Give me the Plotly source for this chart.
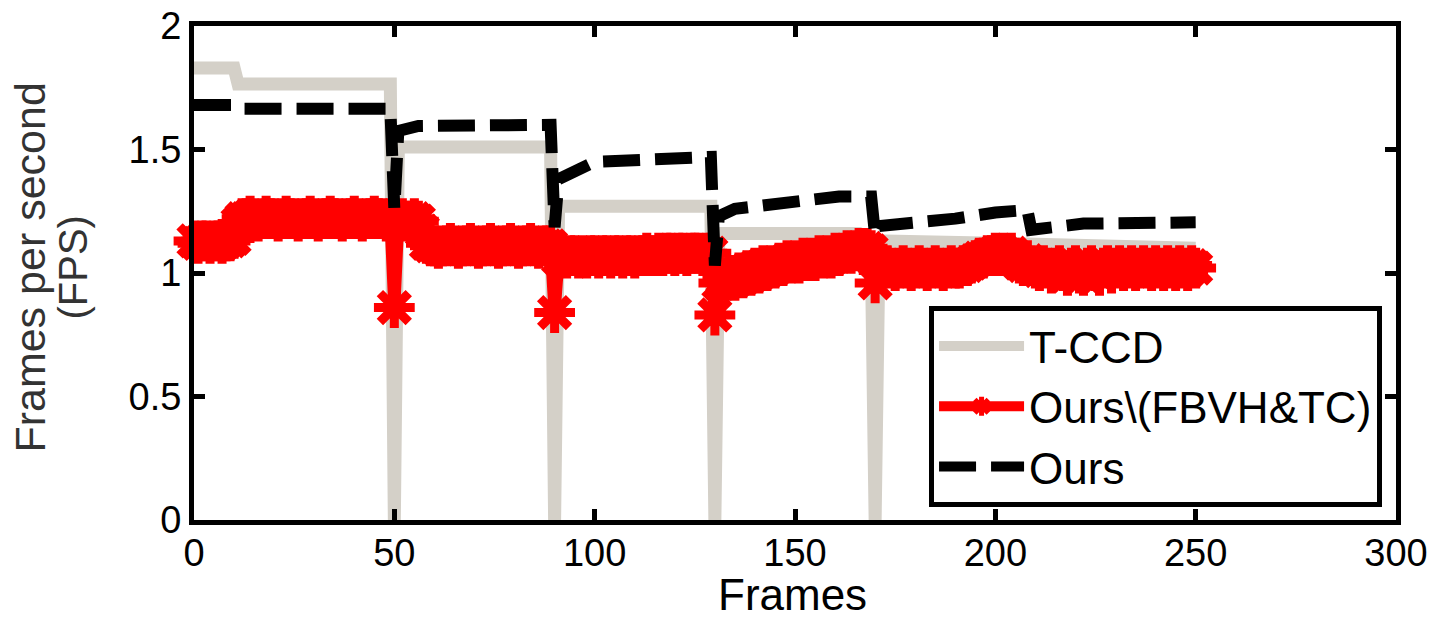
import plotly.graph_objects as go

# ---------------- data ----------------
# T-CCD (grey, stepwise, drops to 0 at scene changes)
tccd_x = [0, 10, 11, 49, 50, 51, 89, 90, 91, 129, 130, 131, 166, 169, 170, 171, 200, 250]
tccd_y = [1.83, 1.83, 1.765, 1.765, 0.0, 1.51, 1.51, 0.0, 1.27, 1.27, 0.0, 1.16, 1.16, 1.13, 0.0, 1.13, 1.12, 1.10]

# Ours (black dashed)
ours_x = [0, 10, 11, 49, 50, 51, 56, 89, 90, 91, 100, 129, 130, 131, 135, 148, 161, 169, 170, 171,
          180, 190, 200, 208, 209, 215, 222, 250]
ours_y = [1.68, 1.68, 1.665, 1.665, 1.26, 1.575, 1.595, 1.60, 1.185, 1.38, 1.45, 1.47, 1.03, 1.23,
          1.26, 1.28, 1.31, 1.31, 1.15, 1.19, 1.20, 1.22, 1.245, 1.255, 1.175, 1.19, 1.20, 1.205]

# Ours\(FBVH&TC) (red, one value per frame 0..250)
red_seg0 = [1.13, 1.12, 1.13, 1.13, 1.12, 1.13, 1.13, 1.12, 1.13, 1.13, 1.14]                 # 0-10
red_seg1 = [1.20, 1.22, 1.22, 1.23, 1.22, 1.21, 1.22, 1.23, 1.22, 1.22, 1.21, 1.22, 1.23,
            1.22, 1.22, 1.21, 1.22, 1.22, 1.23, 1.22, 1.21, 1.22, 1.22, 1.23, 1.22, 1.22,
            1.21, 1.22, 1.22, 1.23, 1.22, 1.21, 1.22, 1.22, 1.23, 1.22, 1.22, 1.21, 1.22]     # 11-49
red_seg2 = [0.86]                                                                          # 50
red_seg3 = [1.21, 1.22, 1.21, 1.21, 1.22, 1.21, 1.17]                                      # 51-57
red_seg4 = [1.12, 1.11, 1.11, 1.10, 1.11, 1.11, 1.12, 1.11, 1.10, 1.11, 1.11, 1.12, 1.11,
            1.10, 1.11, 1.11, 1.12, 1.11, 1.10, 1.11, 1.11, 1.12, 1.11, 1.10, 1.11, 1.11,
            1.12, 1.11, 1.10, 1.11, 1.11, 1.11]                                           # 58-89
red_seg5 = [0.84]                                                                          # 90
red_seg6 = [1.06, 1.07, 1.06, 1.07, 1.07, 1.06, 1.07, 1.06, 1.07, 1.07, 1.06, 1.07, 1.07,
            1.06, 1.07, 1.07, 1.06, 1.07, 1.07, 1.06, 1.07, 1.07, 1.08, 1.07, 1.07, 1.08,
            1.07, 1.08, 1.08, 1.07, 1.08, 1.08, 1.07, 1.08, 1.08, 1.08, 1.07, 1.08, 1.08]     # 91-129
red_seg7 = [0.83]                                                                          # 130
red_seg8 = [0.96, 0.98, 0.97, 0.99, 0.97, 1.00, 0.98, 1.01, 0.99, 1.02, 1.00, 1.03, 1.01,
            1.03, 1.02, 1.04, 1.03, 1.05, 1.04, 1.05, 1.04, 1.06, 1.05, 1.06, 1.05, 1.07,
            1.06, 1.07, 1.06, 1.08, 1.07, 1.08, 1.09, 1.08, 1.09, 1.10, 1.09, 1.10, 1.09]     # 131-169
red_seg9 = [0.96]                                                                          # 170
red_seg10 = [1.01, 1.02, 1.03, 1.02, 1.01, 1.02, 1.03, 1.02, 1.01, 1.02, 1.03, 1.02, 1.01,
             1.02, 1.03, 1.02, 1.01, 1.02, 1.03, 1.02, 1.02, 1.03, 1.03]                   # 171-193
red_seg11 = [1.04, 1.05, 1.06, 1.06, 1.07, 1.07, 1.08, 1.07, 1.08, 1.07, 1.08, 1.06, 1.04,
             1.03, 1.05]                                                                   # 194-208
red_seg12 = [1.03, 1.02, 1.01, 1.03, 1.02, 1.00, 1.02, 1.03, 1.01, 0.99, 1.02, 1.03, 1.00,
             0.99, 1.02, 1.03, 1.01, 0.99, 1.02, 1.03, 1.00, 1.02, 1.03, 1.01, 1.02, 1.03,
             1.01, 1.02, 1.03, 1.02, 1.01, 1.03, 1.02, 1.01, 1.03, 1.02, 1.01, 1.03, 1.02,
             1.01, 1.03, 1.02]                                                             # 209-250
red_y = (red_seg0 + red_seg1 + red_seg2 + red_seg3 + red_seg4 + red_seg5 + red_seg6 + red_seg7
         + red_seg8 + red_seg9 + red_seg10 + red_seg11 + red_seg12)
red_x = list(range(len(red_y)))

x_ticks = [0, 50, 100, 150, 200, 250, 300]
x_ticktext = ["0", "50", "100", "150", "200", "250", "300"]
y_ticks = [0, 0.5, 1, 1.5, 2]
y_ticktext = ["0", "0.5", "1", "1.5", "2"]

names = ["T-CCD", "Ours\\(FBVH&TC)", "Ours"]
x_title = "Frames"
y_title_lines = ["Frames per second", "(FPS)"]

# ---------------- figure ----------------
FONT = "Liberation Sans, Arial, sans-serif"
fig = go.Figure()
fig.add_trace(go.Scatter(x=tccd_x, y=tccd_y, mode="lines", name=names[0],
                         line=dict(color="#d4d0c8", width=13)))
fig.add_trace(go.Scatter(x=red_x, y=red_y, mode="lines+markers", name=names[1],
                         line=dict(color="#ff0000", width=12),
                         marker=dict(symbol="asterisk-open", size=34,
                                     line=dict(color="#ff0000", width=9)),
                         cliponaxis=False))
fig.add_trace(go.Scatter(x=ours_x, y=ours_y, mode="lines", name=names[2],
                         line=dict(color="#000000", width=12, dash="37px,15px")))

axis_common = dict(showline=True, linecolor="black", linewidth=5, mirror="allticks",
                   ticks="inside", ticklen=11, tickwidth=5, tickcolor="black",
                   showgrid=False, zeroline=False, automargin=False,
                   tickfont=dict(family=FONT, size=38, color="black"))

fig.update_layout(
    width=1431, height=620,
    margin=dict(l=194, r=35, t=26, b=100),
    paper_bgcolor="white", plot_bgcolor="white",
    font=dict(family=FONT, color="black"),
    xaxis=dict(range=[0, 300], tickvals=x_ticks, ticktext=x_ticktext,
               ticklabelstandoff=-5, **axis_common),
    yaxis=dict(range=[0, 2], tickvals=y_ticks, ticktext=y_ticktext, **axis_common),
    legend=dict(x=0.9884, y=0.0264, xanchor="right", yanchor="bottom",
                bgcolor="white", bordercolor="black", borderwidth=5,
                font=dict(family=FONT, size=44, color="black"),
                itemwidth=85, tracegroupgap=0),
    showlegend=True,
)

# x-axis title
fig.add_annotation(text=x_title, xref="paper", yref="paper", x=0.498, y=-0.2028,
                   xanchor="center", yanchor="bottom", showarrow=False, borderpad=0,
                   font=dict(family=FONT, size=44, color="black"))

# two-line rotated y-axis title (line positions set independently)
for txt, xp, fs in zip(y_title_lines, [-0.1364, -0.1007], [43, 40]):
    fig.add_annotation(text=txt, xref="paper", yref="paper", x=xp, y=0.511,
                       xanchor="center", yanchor="middle", textangle=-90, showarrow=False,
                       font=dict(family=FONT, size=fs, color="#333"))

fig.write_html("out.html")
